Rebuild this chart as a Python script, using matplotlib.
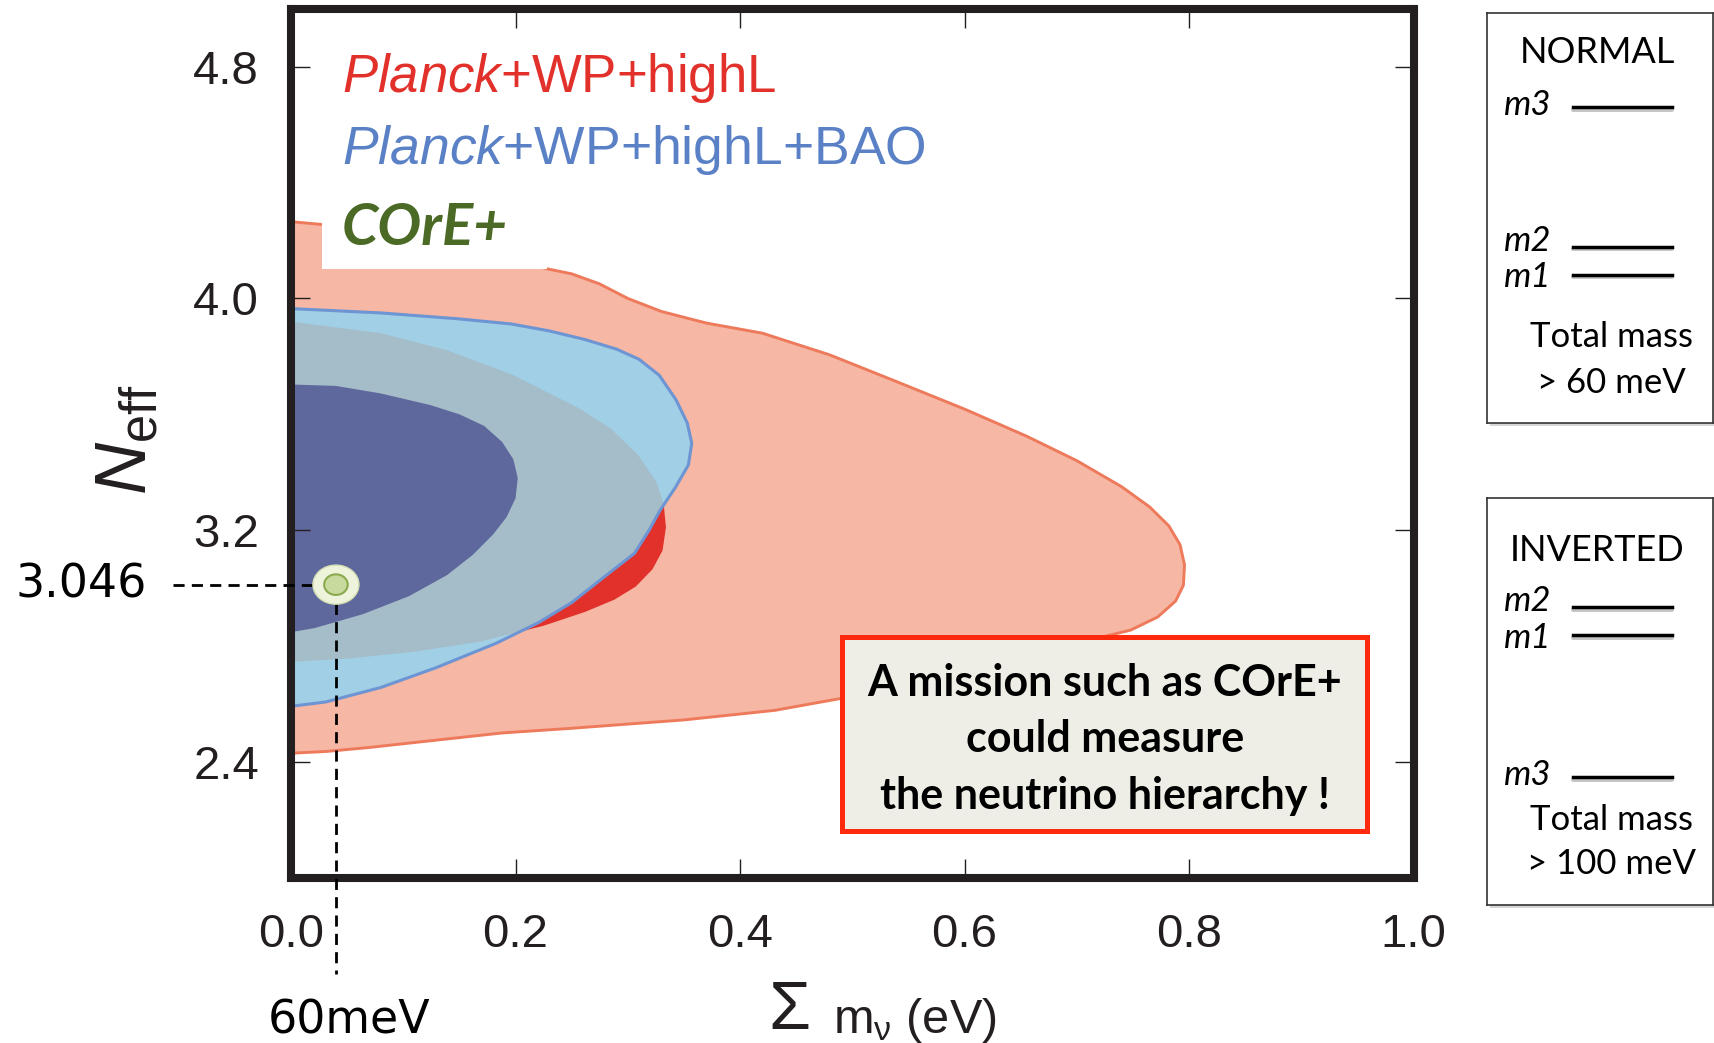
import matplotlib
matplotlib.use("Agg")
import matplotlib.pyplot as plt
from matplotlib.patches import Rectangle, Ellipse
from matplotlib.ticker import FormatStrFormatter

plt.rcParams['font.family'] = ['Liberation Sans', 'DejaVu Sans']
plt.rcParams['mathtext.fontset'] = 'custom'
plt.rcParams['mathtext.rm'] = 'Liberation Sans'
plt.rcParams['mathtext.it'] = 'Liberation Sans:italic'
plt.rcParams['mathtext.bf'] = 'Liberation Sans:bold'

############## contours (sum m_nu [eV], N_eff) ##############

# Planck+WP+highL, 95% region
red95_x = [0.000, 0.100, 0.200, 0.226, 0.250, 0.275, 0.300, 0.330, 0.370, 0.420,
           0.480, 0.540, 0.600, 0.655, 0.700, 0.740, 0.765, 0.782, 0.792, 0.796,
           0.795, 0.788, 0.772, 0.748, 0.715, 0.600, 0.491, 0.431, 0.350, 0.246,
           0.188, 0.129, 0.070, 0.031, 0.000]
red95_y = [4.265, 4.230, 4.150, 4.104, 4.085, 4.050, 4.000, 3.955, 3.915, 3.880,
           3.805, 3.712, 3.618, 3.525, 3.440, 3.350, 3.280, 3.215, 3.150, 3.080,
           3.010, 2.955, 2.900, 2.855, 2.824, 2.715, 2.620, 2.578, 2.545, 2.515,
           2.500, 2.475, 2.450, 2.436, 2.430]

# Planck+WP+highL, 68% region
red68_x = [0.000, 0.080, 0.139, 0.198, 0.257, 0.285, 0.309, 0.325, 0.332, 0.334,
           0.331, 0.322, 0.307, 0.288, 0.262, 0.225, 0.168, 0.109, 0.051, 0.000]
red68_y = [3.920, 3.880, 3.821, 3.735, 3.620, 3.550, 3.460, 3.370, 3.290, 3.210,
           3.130, 3.065, 3.005, 2.960, 2.918, 2.870, 2.815, 2.780, 2.757, 2.745]

# Planck+WP+highL+BAO, 95% region
blue95_x = [0.000, 0.080, 0.148, 0.196, 0.230, 0.262, 0.290, 0.310, 0.328, 0.343,
            0.353, 0.357, 0.354, 0.342, 0.329, 0.319, 0.306, 0.286, 0.250, 0.220,
            0.183, 0.129, 0.080, 0.031, 0.000]
blue95_y = [3.965, 3.950, 3.930, 3.912, 3.888, 3.858, 3.825, 3.790, 3.735, 3.650,
            3.570, 3.500, 3.425, 3.345, 3.270, 3.200, 3.120, 3.060, 2.950, 2.880,
            2.810, 2.725, 2.657, 2.607, 2.592]

# Planck+WP+highL+BAO, 68% region
blue68_x = [0.000, 0.040, 0.080, 0.124, 0.150, 0.172, 0.188, 0.198, 0.202, 0.200,
            0.192, 0.180, 0.162, 0.139, 0.105, 0.064, 0.021, 0.000]
blue68_y = [3.703, 3.698, 3.672, 3.632, 3.600, 3.560, 3.505, 3.445, 3.380, 3.310,
            3.245, 3.185, 3.115, 3.045, 2.972, 2.910, 2.862, 2.848]

# COrE+ fiducial point
core_x = 0.040
core_y = 3.012

x_ticks = [0.0, 0.2, 0.4, 0.6, 0.8, 1.0]
y_ticks = [2.4, 3.2, 4.0, 4.8]

legend_texts = [r"$\mathit{Planck}$+WP+highL", r"$\mathit{Planck}$+WP+highL+BAO"]
legend_colors = ['#e2302b', '#5a80c6']
box_lines = ["A mission such as COrE+", "could measure", "the neutrino hierarchy !"]

# hierarchy sketches (level heights in panel units)
normal_names = ['m3', 'm2', 'm1']
normal_levels = [0.770, 0.429, 0.361]
inverted_names = ['m2', 'm1', 'm3']
inverted_levels = [0.732, 0.663, 0.314]

#################### main panel ####################

fig = plt.figure(figsize=(17.15, 10.43), dpi=100)
ax = fig.add_axes([0.1697, 0.1584, 0.6545, 0.8332])

ax.fill(red95_x, red95_y, fc='#f6b7a5', ec='none', zorder=1)
ax.plot(red95_x + red95_x[:1], red95_y + red95_y[:1], color='#ee7a5c', lw=2.1, zorder=1.05)
ax.fill(red68_x, red68_y, fc='#e2302b', ec='none', zorder=1.1)
b95 = ax.fill(blue95_x, blue95_y, fc='#a0cfe6', ec='none', zorder=1.2)[0]
gray = ax.fill(red68_x, red68_y, fc='#a5bdc9', ec='none', zorder=1.3)[0]
gray.set_clip_path(b95)
ax.fill(blue68_x, blue68_y, fc='#5f689d', ec='none', zorder=1.4)
ax.plot(blue95_x, blue95_y, color='#6d94d3', lw=2.2, zorder=1.45)

# white backdrop behind the legend
ax.add_patch(Rectangle((0.0276, 4.101), 0.2004, 0.95, fc='white', ec='none', zorder=1.5))

# fiducial point and guide lines
ax.plot([-0.105, core_x], [core_y, core_y], color='black', lw=2.0,
        ls=(0, (4, 2.6)), clip_on=False, zorder=5)
ax.plot([core_x, core_x], [core_y, 1.668], color='black', lw=2.0,
        ls=(0, (4, 2.6)), clip_on=False, zorder=5)
ax.add_patch(Ellipse((core_x, core_y), 0.041, 0.135, fc='#eef3dc', ec='#d3dfb2', lw=1, zorder=6))
ax.add_patch(Ellipse((core_x, core_y), 0.021, 0.071, fc='#c9da9e', ec='#8baa4f', lw=1.5, zorder=7))

ax.set_xlim(0, 1.0)
ax.set_ylim(2.0, 5.0)
ax.set_xticks(x_ticks)
ax.set_yticks(y_ticks)
ax.xaxis.set_major_formatter(FormatStrFormatter('%.1f'))
ax.yaxis.set_major_formatter(FormatStrFormatter('%.1f'))
ax.tick_params(direction='in', length=13.5, width=1.0, top=True, right=True,
               labelsize=34, pad=23, colors='#231f20')
ax.tick_params(axis='x', pad=25)
for s in ax.spines.values():
    s.set_linewidth(5.8)
    s.set_color('#231f20')

# legend
ax.text(0.0454, 0.904, legend_texts[0], transform=ax.transAxes, color=legend_colors[0],
        fontsize=38, va='baseline', ha='left')
ax.text(0.0454, 0.8215, legend_texts[1], transform=ax.transAxes, color=legend_colors[1],
        fontsize=38.5, va='baseline', ha='left')
ax.text(0.0454, 0.7282, "COrE+", transform=ax.transAxes, color='#4b6a25',
        fontsize=42, va='baseline', ha='left', family='Lato', weight='bold', style='italic')

# message box
ax.add_patch(Rectangle((0.491, 0.054), 0.4676, 0.223, transform=ax.transAxes,
                       fc='#efeee6', ec='#ff2a0e', lw=3.6, zorder=8))
for yy, line in zip([0.209, 0.1442, 0.0791], box_lines):
    ax.text(0.725, yy, line, transform=ax.transAxes, ha='center', va='baseline',
            fontsize=31, family='Lato', weight='bold', color='black', zorder=9)

# annotations outside the frame
ax.text(-0.128, core_y, "3.046", ha='right', va='center', fontsize=33,
        family='DejaVu Sans', clip_on=False)
ax.text(0.052, 1.506, "60meV", ha='center', va='center', fontsize=33,
        family='DejaVu Sans', clip_on=False)

fig.text(0.0746, 0.578, r"$N_{\mathrm{eff}}$", rotation=90, ha='center', va='center',
         fontsize=52, color='#231f20')
fig.text(0.4606, 0.0310, "Σ", ha='center', va='center', fontsize=49, color='#231f20')
fig.text(0.4857, 0.0096, r"m$_\mathregular{ν}$ (eV)", ha='left', va='baseline',
         fontsize=35, color='#231f20')

#################### hierarchy panels ####################

def hierarchy_panel(rect, title, title_y, names, levels, mass_text, text_y):
    # soft shadow behind the frame
    sh = Rectangle((rect[0] + 0.0015, rect[1] - 0.003), rect[2], rect[3],
                   transform=fig.transFigure, fc='#d6d6d6', ec='none', zorder=-5)
    fig.patches.append(sh)
    p = fig.add_axes(rect)
    p.set_zorder(1)
    p.set_facecolor('white')
    p.set_xlim(0, 1)
    p.set_ylim(0, 1)
    p.set_xticks([])
    p.set_yticks([])
    for s in p.spines.values():
        s.set_linewidth(1.2)
        s.set_color('#333333')
    p.text(0.487, title_y, title, ha='center', va='center', fontsize=26, family='Lato')
    for name, lv in zip(names, levels):
        p.plot([0.381, 0.819], [lv - 0.006, lv - 0.006], color='#c4c4c4', lw=2.8,
               solid_capstyle='round')
        p.plot([0.381, 0.819], [lv, lv], color='black', lw=2.5)
        # nudge the upper label of a tight pair up, the lower one down
        below = any(0 < lv - o < 0.1 for o in levels)
        above = any(0 < o - lv < 0.1 for o in levels)
        off = 0.014 if below else (-0.006 if above else 0.006)
        p.text(0.075, lv + off, name, ha='left', va='center', fontsize=25,
               family='Lato', style='italic')
    p.text(0.549, text_y[0], "Total mass", ha='center', va='center', fontsize=25, family='Lato')
    p.text(0.549, text_y[1], mass_text, ha='center', va='center', fontsize=25, family='Lato')

hierarchy_panel([0.8671, 0.5944, 0.1318, 0.3934], "NORMAL", 0.902,
                normal_names, normal_levels, "> 60 meV", [0.210, 0.097])
hierarchy_panel([0.8671, 0.1323, 0.1318, 0.3902], "INVERTED", 0.872,
                inverted_names, inverted_levels, "> 100 meV", [0.209, 0.100])

fig.savefig("out.png", dpi=100)
